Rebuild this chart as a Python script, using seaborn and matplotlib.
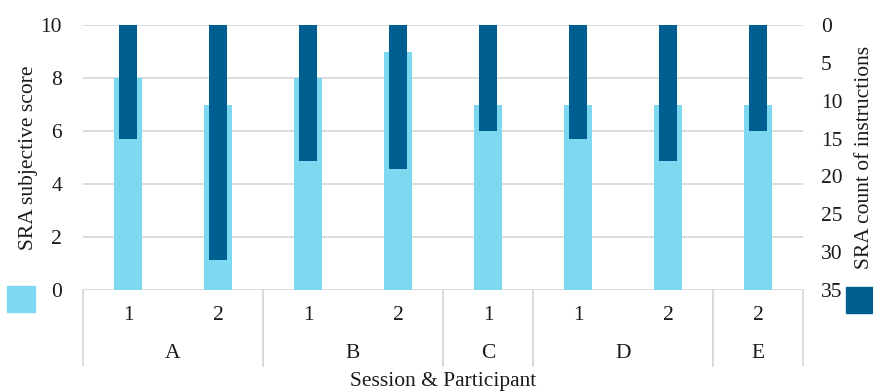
import matplotlib
matplotlib.use("Agg")
import matplotlib.pyplot as plt
import matplotlib.transforms as mtransforms
from matplotlib.patches import Rectangle
import pandas as pd
import seaborn as sns

participants = ["A", "A", "B", "B", "C", "D", "D", "E"]
sessions = ["1", "2", "1", "2", "1", "1", "2", "2"]
subjective_score = [8, 7, 8, 9, 7, 7, 7, 7]
instruction_count = [15, 31, 18, 19, 14, 15, 18, 14]

LIGHT = "#7DD9F0"
DARK = "#005F91"
GRID = "#D9D9D9"
TXT = "#1a1a1a"
FS = 15.5

sns.set_theme(style="white")
plt.rcParams["font.family"] = ["Liberation Serif", "DejaVu Serif"]

df = pd.DataFrame({
    "cat": [f"{p}{s}" for p, s in zip(participants, sessions)],
    "score": subjective_score,
    "count": instruction_count,
})

fig = plt.figure(figsize=(8.73, 3.91), dpi=100)
ax = fig.add_axes([83 / 873, 1 - 290 / 391, 720 / 873, 265 / 391])
ax2 = ax.twinx()

sns.barplot(data=df, x="cat", y="score", ax=ax, color=LIGHT, width=0.31,
            saturation=1, linewidth=0, zorder=2)
sns.barplot(data=df, x="cat", y="count", ax=ax2, color=DARK, width=0.2,
            saturation=1, linewidth=0, zorder=3)

ax.set_ylim(0, 10)
ax.set_yticks(range(0, 11, 2))
ax2.set_ylim(35, 0)
ax2.set_yticks(range(0, 36, 5))
ax.set_xlim(-0.5, len(df) - 0.5)
ax.yaxis.grid(True, color=GRID, linewidth=1.3, zorder=0)
ax.set_axisbelow(True)

for a in (ax, ax2):
    for s in a.spines.values():
        s.set_visible(False)
    a.tick_params(length=0, labelsize=FS, colors=TXT)
    a.set_xlabel("")
    a.set_ylabel("")
ax.set_xticks([])
ax.tick_params(axis="y", pad=15)
ax2.tick_params(axis="y", pad=13)

ax.set_ylabel("SRA subjective score", fontsize=FS, labelpad=2, color=TXT)
ax2.set_ylabel("SRA count of instructions", fontsize=FS, labelpad=9, color=TXT)

# multi-level category axis
trans = mtransforms.blended_transform_factory(ax.transData, ax.transAxes)
for i, s in enumerate(sessions):
    ax.text(i, -0.095, s, transform=trans, ha="center", va="center",
            fontsize=FS, color=TXT)

groups = []
for i, p in enumerate(participants):
    if groups and groups[-1][0] == p:
        groups[-1][2] = i
    else:
        groups.append([p, i, i])

for p, start, end in groups:
    ax.text((start + end) / 2, -0.24, p, transform=trans, ha="center",
            va="center", fontsize=FS, color=TXT)
    for xb in (start - 0.5, end + 0.5):
        ax.plot([xb, xb], [0, -0.285], transform=trans, color=GRID,
                linewidth=1.3, clip_on=False)

ax.text(0.5, -0.31, "Session & Participant", transform=ax.transAxes,
        ha="center", va="top", fontsize=FS, color=TXT)

# legend swatches
fig.patches.append(Rectangle((7 / 873, 1 - 312 / 391), 28 / 873, 26 / 391,
                             transform=fig.transFigure, color=LIGHT))
fig.patches.append(Rectangle((846 / 873, 1 - 313 / 391), 27 / 873, 26 / 391,
                             transform=fig.transFigure, color=DARK))

fig.savefig("out.png", dpi=100)
